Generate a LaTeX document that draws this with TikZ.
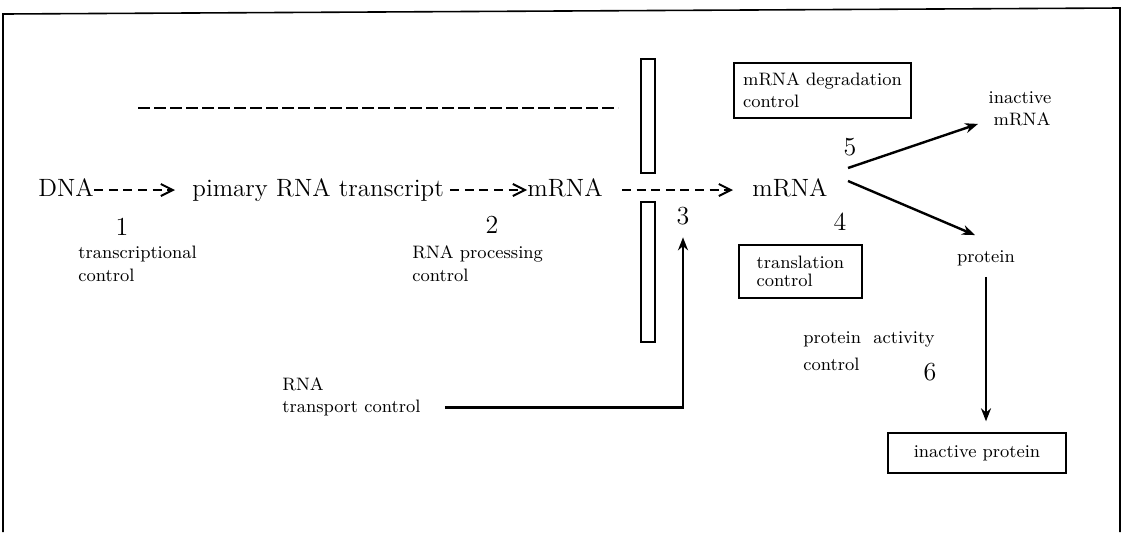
\documentclass[tikz,border=0pt]{standalone}
\usepackage{tikz}
\usetikzlibrary{arrows.meta, positioning}

\begin{document}
\begin{tikzpicture}[
    x=0.5pt, y=-0.5pt,
    bigtext/.style = {inner sep=0pt, anchor=base west, font=\fontsize{12.5}{15}\selectfont},
    numlbl/.style = {inner sep=0pt, font=\fontsize{13}{15}\selectfont},
    smalltext/.style = {inner sep=0pt, anchor=base west, font=\fontsize{9}{11}\selectfont},
    ctlbox/.style = {draw, line width=0.7pt, align=left, inner sep=0pt, font=\fontsize{9}{11}\selectfont},
    dasharrow/.style = {line width=1pt, dash pattern=on 4.5pt off 2.8pt, -{Straight Barb[length=6pt, width=6pt]}},
    solidarrow/.style = {line width=1.2pt, -{Stealth[length=6.5pt, width=5pt]}}
]
\useasboundingbox (0,0) rectangle (1124,532);

% frame
\draw[line width=0.8pt] (3,532) -- (3,14) -- (1120,8) -- (1120,532);

% main line
\node [bigtext] (dna) at (38,196) {DNA};
\node [bigtext] (prt) at (192,196) {pimary RNA transcript};
\node [bigtext, anchor=base east] (mrna1) at (603,196) {mRNA};
\node [bigtext] (mrna2) at (752,196) {mRNA};

\draw [dasharrow, shorten >=8.5pt] ([yshift=3pt]dna.base east) -- ([yshift=3pt]prt.base west);
\draw [dasharrow, shorten <=3pt] ([yshift=3pt]prt.base east) -- ([yshift=3pt]mrna1.base west);
\draw [dasharrow, shorten <=9.5pt, shorten >=9.5pt] ([yshift=3pt]mrna1.base east) -- ([yshift=3pt]mrna2.base west);

% numbers
\node [numlbl] (n1) at (122,227) {1};
\node [numlbl] (n2) at (492,225) {2};
\node [numlbl] (n3) at (683,216) {3};
\node [numlbl] (n4) at (840,222) {4};
\node [numlbl] (n5) at (850,147) {5};
\node [numlbl] (n6) at (930,372) {6};

% control labels
\node [smalltext] (tcA) at (78,258) {transcriptional};
\node [smalltext] (tcB) at (78,281) {control};
\node [smalltext] (rpA) at (412,258) {RNA processing};
\node [smalltext] (rpB) at (412,281) {control};
\node [smalltext] (rtA) at (282,390) {RNA};
\node [smalltext] (rtB) at (282,412) {transport control};
\node [smalltext] (paA) at (803,343) {protein\ \ activity};
\node [smalltext] (paB) at (803,370) {control};
\node [smalltext, anchor=base] (imA) at (1020,103) {inactive};
\node [smalltext, anchor=base] (imB) at (1022,125) {mRNA};
\node [smalltext, anchor=base] (prot) at (986,262) {protein};

\node [ctlbox, minimum width=88.5pt, minimum height=27.5pt] (degbox) at (822.5,90.5) {mRNA degradation\\control};
\node [ctlbox, minimum width=61.5pt, minimum height=26.5pt] (trbox) at (800.5,271.5) {translation\\[-2pt]control};
\node [ctlbox, minimum width=89pt, minimum height=20pt, align=center] (inprot) at (977,453) {inactive protein};

% membrane bars
\draw [line width=0.6pt] (641,59) rectangle (655,173);
\draw [line width=0.6pt] (641,202) rectangle (655,342);

\draw [line width=1.4pt, dash pattern=on 6pt off 2pt] (138,108) -- (618,108);

% arrows
\coordinate (forkup) at (848,168);
\coordinate (forkdn) at (848,181);
\draw [solidarrow, shorten >=8pt] (forkup) -- (imB.west);
\draw [solidarrow, shorten >=6pt] (forkdn) -- ([yshift=5pt]prot.north);
\draw [solidarrow, shorten <=5.5pt, shorten >=5.5pt] (prot.south) -- (prot.south |- inprot.north);
\draw [solidarrow, shorten <=12pt, shorten >=6pt] (rtB.east) -| (n3.south);

\end{tikzpicture}
\end{document}
